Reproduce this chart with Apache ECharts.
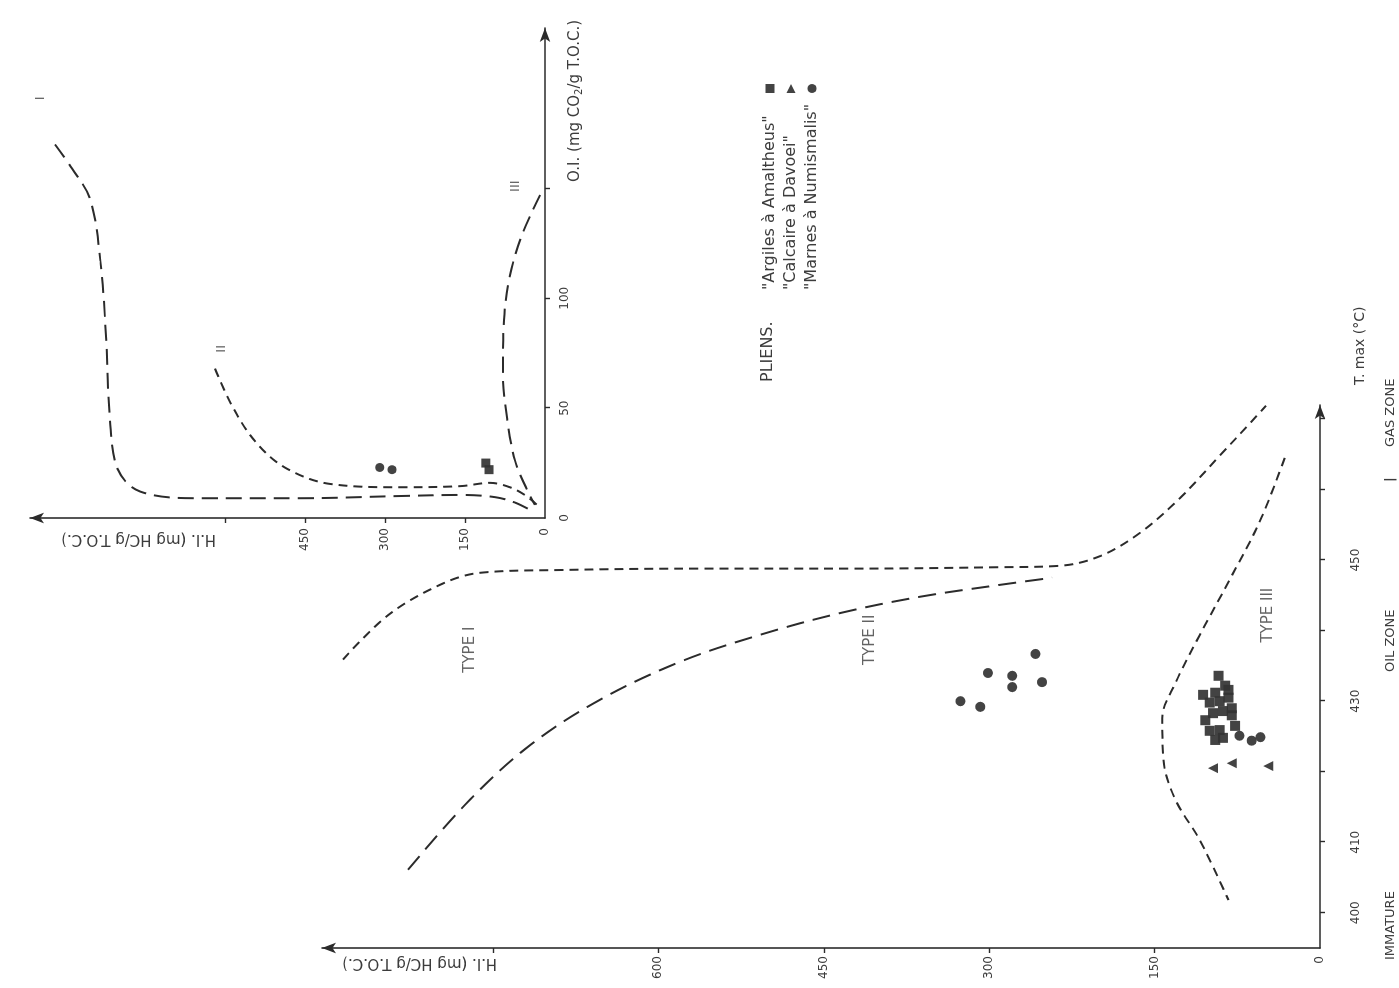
<!DOCTYPE html>
<html>
<head>
<meta charset="utf-8">
<script src="https://cdn.jsdelivr.net/npm/echarts@6/dist/echarts.min.js"></script>
<style>
html,body{margin:0;padding:0;background:#fff;overflow:hidden;width:1399px;height:988px;}
#chart{position:absolute;left:0;top:0;width:988px;height:1399px;transform-origin:0 0;transform:translate(0,988px) rotate(-90deg);}
</style>
</head>
<body>
<div id="chart"></div>
<script>
// ================= DATA =================
// Main diagram: [Tmax (°C), HI (mg HC/g TOC)]
const typeICurve   = [[435.9,886],[442.2,845],[446.5,798],[448.2,762],[448.6,689],[448.8,562],[448.8,426],[449.0,290],[449.2,236],[450.6,199],[453.9,163],[458.8,127],[464.8,91],[469.5,63],[471.9,49]];
const typeIICurve  = [[406.1,827],[416.0,771],[423.8,716],[430.2,653],[435.6,580],[439.4,508],[442.5,435],[444.8,363],[446.5,290],[447.5,243]];
const typeIIICurve = [[464.5,32],[455.7,54],[447.2,82],[439.4,109],[432.6,131],[427.6,143],[421.7,142],[416.0,131],[410.3,109],[401.8,83]];
const mainSquares   = [[433.6,92],[432.2,86],[430.9,106],[431.2,95],[429.8,100],[430.0,91],[430.5,83],[429.0,80],[428.3,97],[428.6,88],[428.0,80],[427.3,104],[425.8,100],[425.9,91],[426.5,77],[424.5,95],[424.8,88],[431.6,83]];
const mainTriangles = [[420.5,97],[421.2,80],[420.8,47]];
const mainCircles   = [[430.0,326],[429.2,308],[434.0,301],[433.6,279],[432.0,279],[436.7,258],[432.7,252],[425.1,73],[424.4,62],[424.9,54]];
const mainTypeLabels = [[437.3,771,'TYPE I'],[438.7,408,'TYPE II'],[442.2,47,'TYPE III']];

// Inset diagram: [OI (mg CO2/g TOC), HI (mg HC/g TOC)]
const insetCurveI   = [[170,919],[159,887],[145,853],[117,834],[81,823],[45,816],[22,801],[12,759],[9,647],[9,459],[10,272],[10.5,159],[9.5,94],[7,56],[3,23]];
const insetCurveII  = [[68,619],[51,587],[35,544],[23,488],[15.5,403],[14,272],[14.5,159],[16,103],[14,66],[10.5,38],[6,15]];
const insetCurveIII = [[147,9],[129,43],[110,66],[90,77],[67,79],[45,71],[26,56],[13,34],[6,19]];
const insetSquares  = [[25,111],[22,105]];
const insetCircles  = [[23,310],[22,287]];
const insetTypeLabels = [[191,947,'I'],[77,606,'II'],[151,56,'III']];

// Ticks and labels
const tmaxTicks  = [400,410,420,430,440,450,460,470];
const tmaxLabels = [400,410,430,450];
const hiTicks    = [150,300,450,600,750];
const hiLabels   = [0,150,300,450,600];
const oiTicks    = [50,100,150];
const oiLabels   = [0,50,100];
const insetHiTicks  = [150,300,450,600];
const insetHiLabels = [0,150,300,450];

const seriesNames = ['"Argiles à Amaltheus"','"Calcaire à Davoei"','"Marnes à Numismalis"'];
const zoneLabels = ['IMMATURE','OIL ZONE','|','GAS ZONE'];

// ================= CHART =================
const FONT = '"DejaVu Sans", "Liberation Sans", sans-serif';
const INK = '#2b2b2b';
const TXT = '#3c3c3c';
const chart = echarts.init(document.getElementById('chart'), null, {renderer:'canvas'});

function axisBase(min, max, ticks, labels, margin){
  return {
    type:'value', min:min, max:max,
    axisLine:{show:true, symbol:['none','arrow'], symbolSize:[8,14], lineStyle:{color:INK, width:1.6}},
    axisTick:{show:true, customValues:ticks, length:5, lineStyle:{color:INK, width:1.4}},
    axisLabel:{show:true, customValues:labels, margin:margin, color:TXT, fontSize:12, fontFamily:FONT},
    splitLine:{show:false}
  };
}
function curve(name, data, xi, dash){
  return {type:'line', name:name, xAxisIndex:xi, yAxisIndex:xi, data:data, smooth:0.35,
    showSymbol:false, symbol:'none', silent:true,
    lineStyle:{color:INK, width:2, type:dash}};
}
function pts(name, data, xi, symbol, size){
  return {type:'scatter', name:name, xAxisIndex:xi, yAxisIndex:xi, data:data, symbol:symbol,
    symbolSize:size, itemStyle:{color:'#333', opacity:0.92}, silent:true};
}
function labels(data, xi, size){
  return {type:'scatter', xAxisIndex:xi, yAxisIndex:xi, data:data, symbolSize:0, silent:true,
    label:{show:true, position:'inside', formatter:p=>p.data[2], color:TXT, fontSize:size, fontFamily:FONT}};
}

const option = {
  animation:false,
  backgroundColor:'#fff',
  grid:[
    {left:40, right:405, top:322, bottom:79},
    {left:470, right:28, top:30, bottom:854}
  ],
  xAxis:[
    Object.assign(axisBase(395, 472, tmaxTicks, tmaxLabels, 30), {gridIndex:0}),
    Object.assign(axisBase(0, 223, oiTicks, oiLabels, 14), {gridIndex:1})
  ],
  yAxis:[
    Object.assign(axisBase(0, 905, hiTicks, hiLabels, 8), {gridIndex:0}),
    Object.assign(axisBase(0, 966, insetHiTicks, insetHiLabels, 10), {gridIndex:1})
  ],
  legend:{
    data:[
      {name:seriesNames[0]},
      {name:seriesNames[1], icon:'path://M0,0L10,5L0,10Z'},
      {name:seriesNames[2]}
    ],
    orient:'vertical', left:693, top:757, align:'right',
    itemWidth:9, itemHeight:9, itemGap:5, selectedMode:false,
    formatter:n=>'{a|'+n+'}',
    textStyle:{color:TXT, fontSize:16, fontFamily:FONT, rich:{a:{width:192, align:'left', fontSize:16, fontFamily:FONT, color:TXT}}}
  },
  graphic:[
    {type:'text', x:606, y:768, style:{text:'PLIENS.', fill:TXT, font:'16px '+FONT, verticalAlign:'middle'}},
    {type:'text', x:603, y:1360, style:{text:'T. max (°C)', fill:TXT, font:'14px '+FONT, verticalAlign:'middle'}},
    {type:'text', x:28, y:1391, style:{text:zoneLabels[0], fill:TXT, font:'13px '+FONT, verticalAlign:'middle'}},
    {type:'text', x:316, y:1391, style:{text:zoneLabels[1], fill:TXT, font:'13px '+FONT, verticalAlign:'middle'}},
    {type:'text', x:506, y:1391, style:{text:zoneLabels[2], fill:TXT, font:'bold 13px '+FONT, verticalAlign:'middle'}},
    {type:'text', x:541, y:1391, style:{text:zoneLabels[3], fill:TXT, font:'13px '+FONT, verticalAlign:'middle'}},
    {type:'text', x:25, y:497, rotation:Math.PI/2, style:{text:'H.I. (mg HC/g T.O.C.)', fill:TXT, font:'15px '+FONT, verticalAlign:'middle', align:'left'}},
    {type:'text', x:449, y:216, rotation:Math.PI/2, style:{text:'H.I. (mg HC/g T.O.C.)', fill:TXT, font:'15px '+FONT, verticalAlign:'middle', align:'left'}},
    {type:'text', x:968, y:575, style:{text:'O.I. (mg CO{s|2}/g T.O.C.)', fill:TXT, font:'15px '+FONT, verticalAlign:'middle', align:'right',
      rich:{s:{fontSize:10, verticalAlign:'bottom', padding:[9,0,0,0], fill:TXT, fontFamily:FONT}}}}
  ],
  series:[
    curve('typeI', typeICurve, 0, [9,6]),
    curve('typeII', typeIICurve, 0, [18,9]),
    curve('typeIII', typeIIICurve, 0, [9,6]),
    pts(seriesNames[0], mainSquares, 0, 'rect', 10),
    pts(seriesNames[1], mainTriangles, 0, 'triangle', 10),
    pts(seriesNames[2], mainCircles, 0, 'circle', 10),
    labels(mainTypeLabels, 0, 15),
    curve('I', insetCurveI, 1, [16,8]),
    curve('II', insetCurveII, 1, [9,6]),
    curve('III', insetCurveIII, 1, [16,8]),
    pts(seriesNames[0], insetSquares, 1, 'rect', 9),
    pts(seriesNames[2], insetCircles, 1, 'circle', 9),
    labels(insetTypeLabels, 1, 13)
  ]
};
chart.setOption(option);
</script>
</body>
</html>
